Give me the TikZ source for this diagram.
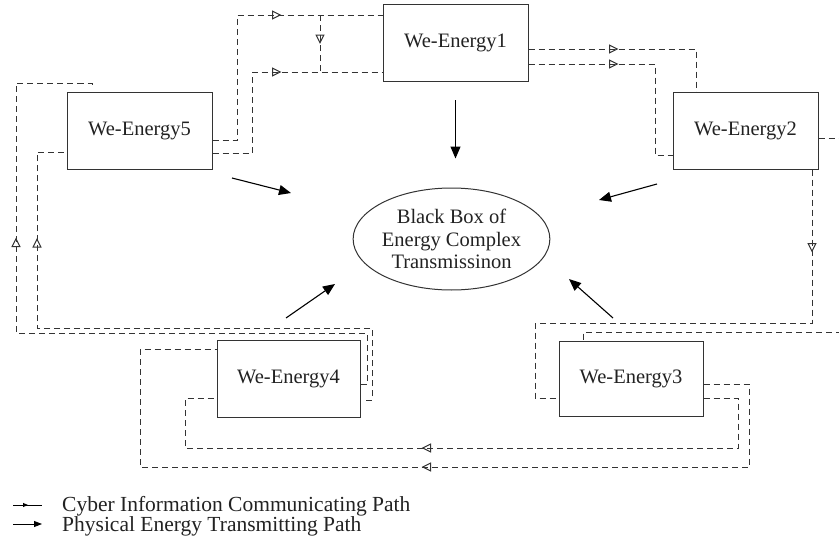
\documentclass[tikz,border=0pt]{standalone}
\usepackage{fontspec}
\setmainfont{Liberation Serif}
\usetikzlibrary{arrows.meta,decorations.markings,shapes.geometric}
\definecolor{ln}{HTML}{333333}
\definecolor{tx}{HTML}{222222}
\begin{document}
\begin{tikzpicture}[x=1pt,y=-1pt,
  box/.style={draw=ln,line width=1pt,minimum width=145pt,minimum height=77pt,inner sep=0pt,text=tx,font=\fontsize{20.5}{22}\selectfont},
  cyb/.style={draw=ln,line width=0.9pt,dash pattern=on 6pt off 4pt},
  mk/.style={postaction={decorate},decoration={markings,mark=at position #1 with {\arrow[line width=1pt,ln]{Triangle[open,length=9.5pt,width=9pt]}}}},
  phys/.style={draw=black,line width=1.1pt,-{Triangle[length=12pt,width=10pt]}},
  legtext/.style={anchor=west,inner sep=0pt,text=tx,font=\fontsize{21.5}{23}\selectfont},
]
\useasboundingbox (0,0) rectangle (839,554);
\clip (0,0) rectangle (839,554);

% nodes
\node[box] (e1) at (455.5,43) {We-Energy1};
\node[box] (e2) at (745.5,130.5) {We-Energy2};
\node[box] (e5) at (139.5,131) {We-Energy5};
\node[box,minimum width=143pt] (e4) at (288.5,378.5) {We-Energy4};
\node[box,minimum width=144pt,minimum height=75pt] (e3) at (631,378.5) {We-Energy3};
\node[ellipse,draw=ln,line width=1pt,minimum width=177pt,minimum height=102pt,inner sep=0pt,align=center,text=tx,font=\fontsize{20.5}{22.5}\selectfont] (bb) at (451.5,239) {Black Box of\\Energy Complex\\Transmissinon};

% cyber paths
\draw[cyb,mk=194pt] (e5.east |- 0,140) -- (237,140) -- (237,15) -- (e1.west |- 0,15);
\draw[cyb,mk=150pt] (e5.east |- 0,153) -- (252,153) -- (252,72) -- (e1.west |- 0,72);
\coordinate (j1) at (320,15);
\coordinate (j2) at (320,72);
\draw[cyb,mk=29pt] (j1) -- (j2);
\draw[cyb,mk=90pt] (e1.east |- 0,49) -- (696,49) -- (e2.north -| 696,0);
\draw[cyb,mk=90pt] (e1.east |- 0,64) -- (655,64) -- (655,155) -- (e2.west |- 0,155);
\draw[cyb] (e2.east |- 0,138) -- (848,138) -- (848,332) -- (583,332) -- (e3.north -| 583,0);
\draw[cyb,mk=83pt] (e2.south -| 812,0) -- (812,323) -- (535,323) -- (535,398) -- (e3.west |- 0,398);
\draw[cyb,mk=456pt] (e3.east |- 0,384) -- (749,384) -- (749,467) -- (140,467) -- (140,349) -- (e4.west |- 0,349);
\draw[cyb,mk=401pt] (e3.east |- 0,398) -- (738,398) -- (738,448) -- (185,448) -- (185,398) -- (e4.west |- 0,398);
\coordinate (s5) at (92,88);
\draw[cyb,mk=504pt] (e4.east |- 0,384) -- (367,384) -- (367,333) -- (16,333) -- (16,83) -- (92,83) -- (s5);
\coordinate (s4) at (366,400);
\draw[cyb,mk=503pt] (s4) -- (372,400) -- (372,328) -- (37,328) -- (37,152) -- (e5.west |- 0,152);

% physical paths
\draw[phys,shorten <=18pt,shorten >=29pt] (e1.south) -- (e1.south |- bb.north);
\coordinate (a5s) at (232,178); \coordinate (a5e) at (291,193);
\coordinate (a2s) at (657,184); \coordinate (a2e) at (599,200);
\coordinate (a4s) at (286,318); \coordinate (a4e) at (335,284);
\coordinate (a3s) at (613,318); \coordinate (a3e) at (569,279);
\draw[phys] (a5s) -- (a5e);
\draw[phys] (a2s) -- (a2e);
\draw[phys] (a4s) -- (a4e);
\draw[phys] (a3s) -- (a3e);

% legend
\coordinate (l1a) at (13,505); \coordinate (l1b) at (42,505);
\draw[line width=0.9pt,black,postaction={decorate},decoration={markings,mark=at position 15pt with {\arrow{Triangle[length=5pt,width=4pt]}}}] (l1a) -- (l1b);
\node[legtext] (t1) at (62,506) {Cyber Information Communicating Path};
\coordinate (l2a) at (13,524); \coordinate (l2b) at (42,524);
\draw[line width=0.9pt,black,-{Triangle[length=8pt,width=6pt]}] (l2a) -- (l2b);
\node[legtext] (t2) at (62,526) {Physical Energy Transmitting Path};
\end{tikzpicture}
\end{document}
